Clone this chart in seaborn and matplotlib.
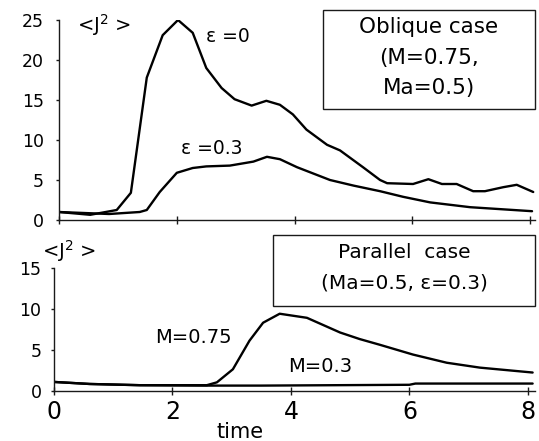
import matplotlib
matplotlib.use("Agg")
import matplotlib.pyplot as plt
import seaborn as sns
import pandas as pd
from matplotlib.patches import Rectangle

# ---- data ----
t_eps0 = [0, 0.53, 0.98, 1.22, 1.49, 1.76, 2.02, 2.27, 2.5, 2.76, 2.98, 3.27, 3.52, 3.75,
          3.97, 4.2, 4.55, 4.77, 5.16, 5.45, 5.57, 6.01, 6.27, 6.5, 6.75, 7.03, 7.23, 7.54,
          7.77, 8.05]
j_eps0 = [1.0, 0.65, 1.25, 3.4, 17.8, 23.1, 25.0, 23.4, 19.0, 16.5, 15.1, 14.3, 14.9, 14.4,
          13.2, 11.3, 9.4, 8.7, 6.6, 5.0, 4.6, 4.5, 5.1, 4.5, 4.5, 3.6, 3.6, 4.1,
          4.4, 3.5]

t_eps03 = [0, 0.85, 1.37, 1.49, 1.71, 2.0, 2.27, 2.5, 2.9, 3.3, 3.53, 3.75, 4.04, 4.6,
           5.0, 5.45, 5.84, 6.3, 6.98, 8.03]
j_eps03 = [1.0, 0.75, 1.0, 1.25, 3.5, 5.9, 6.5, 6.7, 6.8, 7.3, 7.9, 7.6, 6.6, 5.0,
           4.3, 3.6, 2.9, 2.2, 1.6, 1.1]

t_m075 = [0, 0.6, 1.45, 2.58, 2.75, 3.02, 3.3, 3.53, 3.81, 4.27, 4.83, 5.16, 5.5, 6.06,
          6.63, 7.19, 8.08]
j_m075 = [1.05, 0.8, 0.65, 0.65, 1.0, 2.6, 6.1, 8.3, 9.4, 8.9, 7.1, 6.3, 5.6, 4.4,
          3.4, 2.8, 2.2]

t_m03 = [0, 0.6, 1.45, 2.58, 3.5, 6.0, 6.1, 7.9, 8.08]
j_m03 = [1.05, 0.8, 0.65, 0.6, 0.6, 0.7, 0.85, 0.85, 0.85]

x_ticks = [0, 2, 4, 6, 8]
top_yticks = [0, 5, 10, 15, 20, 25]
bot_yticks = [0, 5, 10, 15]

top_lines = pd.DataFrame({"time": t_eps0 + t_eps03,
                          "J2": j_eps0 + j_eps03,
                          "case": ["eps0"] * len(t_eps0) + ["eps03"] * len(t_eps03)})
bot_lines = pd.DataFrame({"time": t_m075 + t_m03,
                          "J2": j_m075 + j_m03,
                          "case": ["M075"] * len(t_m075) + ["M03"] * len(t_m03)})

sns.set_style("ticks")
plt.rcParams["font.family"] = ["DejaVu Sans"]
plt.rcParams["mathtext.fontset"] = "dejavusans"
for k in ("text.color", "axes.labelcolor", "xtick.color", "ytick.color", "axes.edgecolor"):
    plt.rcParams[k] = "black"

fig = plt.figure(figsize=(5.39, 4.41), dpi=100)
ax1 = fig.add_axes([59 / 539, 1 - 220 / 441, 476 / 539, 200 / 441])
ax2 = fig.add_axes([54 / 539, 1 - 390.5 / 441, 481 / 539, 122.5 / 441])

for ax, df in ((ax1, top_lines), (ax2, bot_lines)):
    sns.lineplot(data=df, x="time", y="J2", units="case", estimator=None,
                 color="black", lw=1.7, ax=ax, sort=False)
    ax.set_xlabel("")
    ax.set_ylabel("")
    for s in ("top", "right"):
        ax.spines[s].set_visible(False)
    for s in ("left", "bottom"):
        ax.spines[s].set_color("#1a1a1a")
        ax.spines[s].set_linewidth(1.0)
    ax.set_xticks(x_ticks)
    ax.tick_params(axis="x", bottom=True, direction="inout", length=6, width=1,
                   color="#1a1a1a")
    ax.tick_params(axis="y", left=True, direction="out", length=2, width=1,
                   color="#1a1a1a")

# top panel
ax1.set_xlim(0, 8.08)
ax1.set_ylim(0, 25)
ax1.set_yticks(top_yticks)
ax1.set_yticklabels([str(v) for v in top_yticks], fontsize=12.5)
ax1.tick_params(axis="y", pad=9)
ax1.set_xticklabels([])
ax1.text(0.31, 23.5, "<J$^2$ >", fontsize=14, ha="left", va="baseline")
ax1.text(2.87, 22.3, "ε =0", fontsize=13.5, ha="center", va="baseline")
ax1.text(2.60, 8.3, "ε =0.3", fontsize=13.5, ha="center", va="baseline")
ax1.add_patch(Rectangle((4.48, 13.9), 3.60, 12.35, fill=False, ec="#1a1a1a", lw=1.0,
                        clip_on=False))
ax1.text(6.28, 23.4, "Oblique case", fontsize=15.5, ha="center", va="baseline")
ax1.text(6.28, 19.5, "(M=0.75,", fontsize=15.5, ha="center", va="baseline")
ax1.text(6.28, 15.8, "Ma=0.5)", fontsize=15.5, ha="center", va="baseline")

# bottom panel
ax2.set_xlim(0, 8.12)
ax2.set_ylim(0, 15)
ax2.set_yticks(bot_yticks)
ax2.set_yticklabels([str(v) for v in bot_yticks], fontsize=12.5)
ax2.tick_params(axis="y", pad=7)
ax2.set_xticklabels([str(v) for v in x_ticks], fontsize=17)
ax2.tick_params(axis="x", pad=4)
ax2.text(-0.2, 16.3, "<J$^2$ >", fontsize=14, ha="left", va="baseline", clip_on=False)
ax2.text(2.35, 5.8, "M=0.75", fontsize=14, ha="center", va="baseline")
ax2.text(4.49, 2.3, "M=0.3", fontsize=14, ha="center", va="baseline")
ax2.add_patch(Rectangle((3.70, 10.3), 4.42, 8.7, fill=False, ec="#1a1a1a", lw=1.0,
                        clip_on=False))
ax2.text(5.91, 16.2, "Parallel  case", fontsize=14.5, ha="center", va="baseline")
ax2.text(5.91, 12.5, "(Ma=0.5, ε=0.3)", fontsize=14.5, ha="center", va="baseline")

fig.text(240 / 539, 1 - 438 / 441, "time", fontsize=15, ha="center", va="baseline")

fig.savefig("out.png", dpi=100)
